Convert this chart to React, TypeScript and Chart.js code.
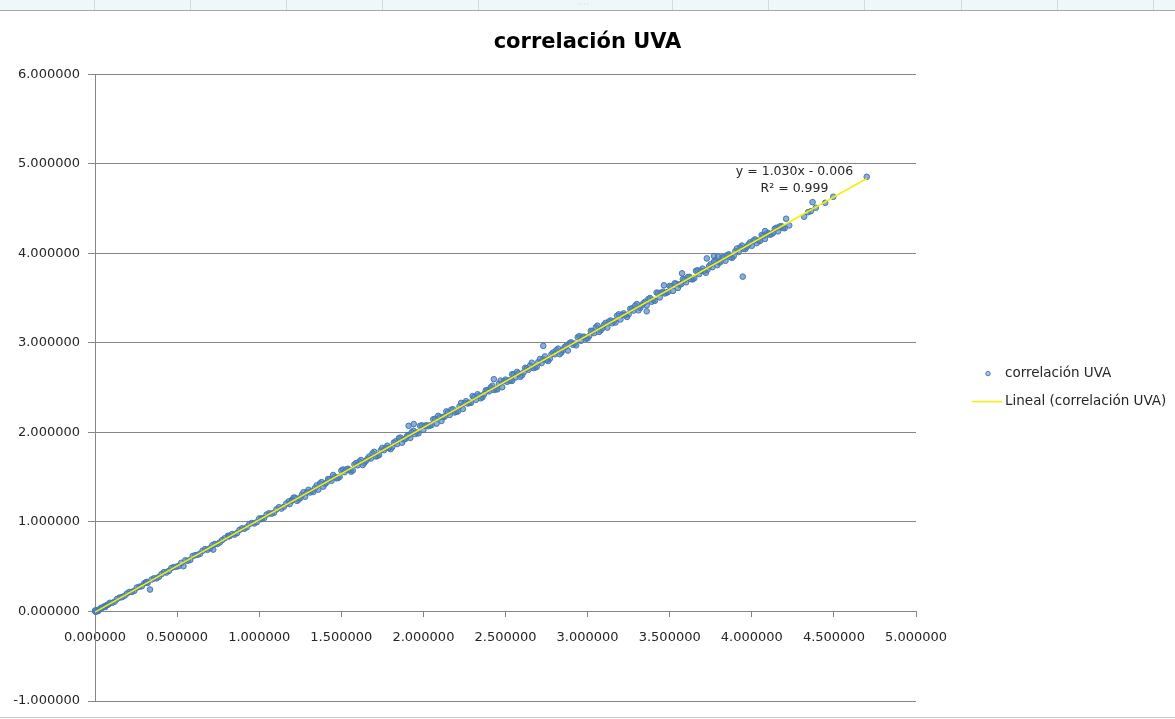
import React, { useEffect, useRef } from 'react';
import { Chart, registerables, layouts } from 'chart.js';

Chart.register(...registerables);

// ---------- texts ----------
const TITLE = 'correlación UVA';
const SERIES_LABEL = 'correlación UVA';
const TREND_LABEL = 'Lineal (correlación UVA)';

// ---------- axes ----------
const X_TICKS = [0, 0.5, 1, 1.5, 2, 2.5, 3, 3.5, 4, 4.5, 5];
const Y_TICKS = [-1, 0, 1, 2, 3, 4, 5, 6];

// ---------- trendline ----------
const TREND_SLOPE = 1.03;
const TREND_INTERCEPT = -0.006;
const TREND_R2 = 0.999;
const TREND_X_RANGE = [0, 4.7];
const TREND_LABEL_AT = { x: 4.26, y: 4.905 };

// ---------- data (x, y) ----------
const puntosOrigen: [number, number][] = [
  [0.0, 0.004], [0.004, -0.003], [0.008, 0.01], [0.012, 0.002], [0.016, 0.014], [0.002, 0.012],
  [0.02, 0.006], [0.045, 0.042], [0.055, 0.056], [0.062, 0.05], [0.068, 0.066], [0.074, 0.072],
  [0.03, 0.024], [0.037, 0.04], [0.082, 0.078],
];

const puntosTramoBajo: [number, number][] = [
  [0.09, 0.097], [0.12, 0.11], [0.15, 0.155], [0.18, 0.175], [0.21, 0.218], [0.24, 0.231],
  [0.27, 0.276], [0.3, 0.315], [0.31, 0.323], [0.32, 0.318], [0.315, 0.33], [0.335, 0.245],
  [0.36, 0.37], [0.39, 0.387], [0.42, 0.439], [0.45, 0.453], [0.48, 0.496], [0.51, 0.507],
  [0.539, 0.506], [0.55, 0.571], [0.58, 0.575], [0.61, 0.628], [0.64, 0.645], [0.67, 0.696],
  [0.7, 0.705], [0.72, 0.691], [0.73, 0.754], [0.76, 0.771], [0.79, 0.818], [0.81, 0.846],
  [0.815, 0.838], [0.82, 0.843], [0.85, 0.858], [0.88, 0.91], [0.91, 0.923], [0.94, 0.976],
  [0.97, 0.983], [1.0, 1.038], [1.016, 1.041], [1.012, 1.03], [1.03, 1.043], [1.06, 1.096],
  [1.09, 1.103], [1.12, 1.164], [1.15, 1.169], [1.18, 1.229], [1.2, 1.238], [1.199, 1.245],
  [0.105, 0.096], [0.135, 0.141], [0.165, 0.16], [0.195, 0.201], [0.225, 0.218], [0.255, 0.267],
  [0.285, 0.282], [0.345, 0.357], [0.375, 0.37], [0.405, 0.417], [0.435, 0.434], [0.465, 0.485],
  [0.495, 0.5], [0.525, 0.543], [0.565, 0.566], [0.595, 0.619], [0.625, 0.632], [0.655, 0.677],
  [0.685, 0.688], [0.715, 0.74], [0.745, 0.753], [0.775, 0.798], [0.835, 0.864], [0.865, 0.875],
  [0.895, 0.928], [0.925, 0.941], [0.955, 0.988], [0.985, 0.997], [1.045, 1.082], [1.075, 1.091],
  [1.105, 1.14], [1.135, 1.149], [1.165, 1.206], [1.185, 1.199],
];

const puntosBanda: [number, number][] = [
  [1.22, 1.269], [1.24, 1.249], [1.26, 1.302], [1.28, 1.282], [1.3, 1.359], [1.32, 1.346], [1.34, 1.378], [1.36, 1.36], [1.38, 1.445], [1.4, 1.424],
  [1.42, 1.479], [1.44, 1.459], [1.46, 1.504], [1.48, 1.49], [1.5, 1.573], [1.52, 1.556], [1.54, 1.594], [1.56, 1.561], [1.58, 1.641], [1.6, 1.632],
  [1.62, 1.691], [1.64, 1.659], [1.66, 1.706], [1.68, 1.708], [1.7, 1.783], [1.72, 1.736], [1.74, 1.798], [1.76, 1.801], [1.78, 1.851], [1.8, 1.812],
  [1.82, 1.885], [1.84, 1.869], [1.86, 1.942], [1.88, 1.92], [1.9, 1.959], [1.92, 1.938], [1.94, 2.018], [1.96, 1.999], [1.98, 2.073], [2.0, 2.028],
  [2.02, 2.079], [2.04, 2.077], [2.06, 2.146], [2.08, 2.098], [2.1, 2.169], [2.12, 2.172], [2.14, 2.234], [2.16, 2.195], [2.18, 2.257], [2.2, 2.23],
  [2.22, 2.291], [2.24, 2.261], [2.26, 2.348], [2.28, 2.33], [2.3, 2.405], [2.32, 2.364], [2.34, 2.41], [2.36, 2.393], [2.38, 2.469], [2.4, 2.458],
  [2.42, 2.521], [2.44, 2.481], [2.46, 2.542], [2.48, 2.504], [2.5, 2.589], [2.52, 2.58], [2.54, 2.648], [2.56, 2.613], [2.58, 2.659], [2.6, 2.636],
  [2.62, 2.721], [2.64, 2.699], [2.66, 2.778], [2.68, 2.724], [2.7, 2.785], [2.72, 2.774], [2.74, 2.848], [2.76, 2.797], [2.78, 2.873], [2.8, 2.872],
  [2.82, 2.935], [2.84, 2.891], [2.86, 2.952], [2.88, 2.914], [2.9, 3.005], [2.92, 2.992], [2.94, 3.062], [2.96, 3.023], [2.98, 3.067], [3.0, 3.05],
  [3.02, 3.135], [3.04, 3.109], [3.06, 3.192], [3.08, 3.14], [3.1, 3.201], [3.12, 3.17], [3.14, 3.25], [3.16, 3.241], [3.18, 3.303], [3.2, 3.26],
  [3.22, 3.329], [3.24, 3.289], [3.26, 3.38], [3.28, 3.36], [3.3, 3.433], [3.32, 3.39], [3.34, 3.442], [3.36, 3.419], [3.38, 3.501], [3.4, 3.478],
  [3.42, 3.561], [3.44, 3.507], [3.46, 3.57], [3.48, 3.558], [3.5, 3.635], [3.52, 3.58], [3.54, 3.66], [3.56, 3.651], [3.58, 3.711], [3.6, 3.676],
  [3.62, 3.737], [3.64, 3.709], [3.66, 3.804], [3.68, 3.768], [3.7, 3.829], [3.72, 3.782], [3.74, 3.856], [3.76, 3.845], [3.78, 3.925], [3.8, 3.896],
  [3.82, 3.955], [3.84, 3.917], [3.86, 3.988], [3.88, 3.95], [3.9, 4.023], [3.92, 4.014], [3.94, 4.086], [3.96, 4.047], [3.98, 4.099], [4.0, 4.084],
  [4.02, 4.155], [4.04, 4.141], [4.06, 4.204], [4.08, 4.16], [4.1, 4.227], [4.12, 4.214], [4.14, 4.274], [4.16, 4.245], [4.18, 4.303], [4.2, 4.28],
];

const puntosBandaIntermedios: [number, number][] = [
  [1.23, 1.235], [1.27, 1.332], [1.31, 1.329], [1.35, 1.407], [1.39, 1.394], [1.43, 1.479], [1.47, 1.488], [1.51, 1.585],
  [1.55, 1.581], [1.59, 1.656], [1.63, 1.635], [1.67, 1.73], [1.71, 1.731], [1.75, 1.827], [1.79, 1.826], [1.83, 1.899],
  [1.87, 1.884], [1.91, 1.971], [1.95, 1.981], [1.99, 2.078], [2.03, 2.069], [2.07, 2.152], [2.11, 2.127], [2.15, 2.223],
  [2.19, 2.222], [2.23, 2.329], [2.27, 2.322], [2.31, 2.395], [2.35, 2.381], [2.39, 2.472], [2.43, 2.473], [2.47, 2.578],
  [2.51, 2.565], [2.55, 2.649], [2.59, 2.62], [2.63, 2.715], [2.67, 2.718], [2.71, 2.819], [2.75, 2.809], [2.79, 2.892],
  [2.83, 2.873], [2.87, 2.968], [2.91, 2.979], [2.95, 3.075], [2.99, 3.046], [3.03, 3.131], [3.07, 3.122], [3.11, 3.223],
  [3.15, 3.219], [3.19, 3.318], [3.23, 3.311], [3.27, 3.384], [3.31, 3.363], [3.35, 3.459], [3.39, 3.46], [3.43, 3.557],
  [3.47, 3.552], [3.51, 3.633], [3.55, 3.613], [3.59, 3.704], [3.63, 3.711], [3.67, 3.81], [3.71, 3.803], [3.75, 3.877],
  [3.79, 3.868], [3.83, 3.953], [3.87, 3.956], [3.91, 4.053], [3.95, 4.049], [3.99, 4.122], [4.03, 4.113], [4.07, 4.196],
  [4.11, 4.207], [4.15, 4.285], [4.19, 4.282],
];

const puntosBandaRelleno: [number, number][] = [
  [1.21, 1.272], [1.25, 1.266], [1.29, 1.329], [1.33, 1.334], [1.37, 1.429], [1.41, 1.438], [1.45, 1.524], [1.49, 1.503],
  [1.53, 1.584], [1.57, 1.575], [1.61, 1.674], [1.65, 1.682], [1.69, 1.765], [1.73, 1.748], [1.77, 1.825], [1.81, 1.836],
  [1.85, 1.934], [1.89, 1.927], [1.93, 2.002], [1.97, 1.989], [2.01, 2.074], [2.05, 2.082], [2.09, 2.185], [2.13, 2.176],
  [2.17, 2.253], [2.21, 2.234], [2.25, 2.328], [2.29, 2.331], [2.33, 2.426], [2.37, 2.427], [2.41, 2.502], [2.45, 2.48],
  [2.49, 2.571], [2.53, 2.58], [2.57, 2.675], [2.61, 2.668], [2.65, 2.746], [2.69, 2.731], [2.73, 2.814], [2.77, 2.823],
  [2.81, 2.918], [2.85, 2.92], [2.89, 2.997], [2.93, 2.972], [2.97, 3.067], [3.01, 3.076], [3.05, 3.172], [3.09, 3.165],
  [3.13, 3.238], [3.17, 3.227], [3.21, 3.31], [3.25, 3.318], [3.29, 3.415], [3.33, 3.416], [3.37, 3.489], [3.41, 3.47],
  [3.45, 3.562], [3.49, 3.569], [3.53, 3.664], [3.57, 3.655], [3.61, 3.734], [3.65, 3.722], [3.69, 3.805], [3.73, 3.816],
  [3.77, 3.907], [3.81, 3.904], [3.85, 3.978], [3.89, 3.971], [3.93, 4.066], [3.97, 4.073], [4.01, 4.14], [4.05, 4.138],
  [4.09, 4.219], [4.13, 4.228], [4.17, 4.299],
];

const puntosDispersos: [number, number][] = [
  [4.209, 4.386], [4.228, 4.311], [4.319, 4.408], [4.343, 4.459], [4.36, 4.47], [4.37, 4.571],
  [4.39, 4.508], [4.447, 4.564], [4.496, 4.631], [4.7, 4.854], [3.945, 3.739], [3.726, 3.943],
  [3.77, 3.969], [3.795, 3.962], [3.575, 3.776], [3.465, 3.642], [3.36, 3.352], [2.73, 2.966],
  [2.429, 2.594], [1.91, 2.073], [1.941, 2.093], [2.54, 2.575], [4.081, 4.248],
];

// ---------- styles ----------
const MARKER_BORDER = '#4678b6';
const MARKER_FILL = 'rgba(79,129,189,0.65)';
const TREND_COLOR = '#f2f200';
const GRID_COLOR = '#868686';
const TEXT_COLOR = '#262626';
const LEGEND_WIDTH = 259;
const STRIP_SEPARATORS = [94, 190, 286, 382, 478, 672, 768, 864, 961, 1057, 1153];

function fmt(v: number) {
  return Number(v).toFixed(6);
}

export default function App() {
  const canvasRef = useRef<HTMLCanvasElement | null>(null);

  useEffect(() => {
    const canvas = canvasRef.current;
    if (!canvas) return;

    const all = [
      ...puntosOrigen,
      ...puntosTramoBajo,
      ...puntosBanda,
      ...puntosBandaIntermedios,
      ...puntosBandaRelleno,
      ...puntosDispersos,
    ].map(([x, y]) => ({ x, y }));
    const trend = TREND_X_RANGE.map((x) => ({ x, y: TREND_SLOPE * x + TREND_INTERCEPT }));

    const legendBoxPlugin = {
      id: 'excelLegendBox',
      beforeInit(chart: any) {
        const box: any = {
          position: 'right',
          weight: 0,
          fullSize: false,
          options: { display: true },
          left: 0, top: 0, right: 0, bottom: 0, width: 0, height: 0,
          isHorizontal() { return false; },
          update(_maxW: number, maxH: number) {
            this.width = LEGEND_WIDTH;
            this.height = maxH;
          },
          draw() {
            const ctx = chart.ctx as CanvasRenderingContext2D;
            const area = chart.chartArea;
            const midY = (area.top + area.bottom) / 2;
            const y1 = midY - 14;
            const y2 = midY + 14;
            const x0 = this.left;
            ctx.save();
            ctx.beginPath();
            ctx.arc(x0 + 72, y1, 2.2, 0, Math.PI * 2);
            ctx.fillStyle = 'rgba(79,129,189,0.45)';
            ctx.fill();
            ctx.strokeStyle = MARKER_BORDER;
            ctx.lineWidth = 1;
            ctx.stroke();
            ctx.beginPath();
            ctx.moveTo(x0 + 56, y2);
            ctx.lineTo(x0 + 86, y2);
            ctx.strokeStyle = TREND_COLOR;
            ctx.lineWidth = 1.5;
            ctx.stroke();
            ctx.font = '13.5px "DejaVu Sans"';
            ctx.fillStyle = TEXT_COLOR;
            ctx.textAlign = 'left';
            ctx.textBaseline = 'middle';
            ctx.fillText(SERIES_LABEL, x0 + 89, y1);
            ctx.fillText(TREND_LABEL, x0 + 89, y2);
            ctx.restore();
          },
        };
        layouts.addBox(chart, box);
      },
    };

    const trendLabelPlugin = {
      id: 'trendLabel',
      afterDatasetsDraw(chart: any) {
        const ctx = chart.ctx as CanvasRenderingContext2D;
        const cx = chart.scales.x.getPixelForValue(TREND_LABEL_AT.x);
        const cy = chart.scales.y.getPixelForValue(TREND_LABEL_AT.y);
        ctx.save();
        ctx.font = '12.5px "DejaVu Sans"';
        ctx.fillStyle = TEXT_COLOR;
        ctx.textAlign = 'center';
        ctx.textBaseline = 'middle';
        const sign = TREND_INTERCEPT < 0 ? '-' : '+';
        ctx.fillText(`y = ${TREND_SLOPE.toFixed(3)}x ${sign} ${Math.abs(TREND_INTERCEPT).toFixed(3)}`, cx, cy);
        ctx.fillText(`R² = ${TREND_R2.toFixed(3)}`, cx, cy + 17);
        ctx.restore();
      },
    };

    const chart = new Chart(canvas, {
      type: 'scatter',
      data: {
        datasets: [
          {
            label: TREND_LABEL,
            data: trend,
            showLine: true,
            borderColor: TREND_COLOR,
            borderWidth: 1.5,
            pointRadius: 0,
            fill: false,
            order: 0,
          } as any,
          {
            label: SERIES_LABEL,
            data: all,
            pointRadius: 2.8,
            pointBorderWidth: 1,
            pointBorderColor: MARKER_BORDER,
            pointBackgroundColor: MARKER_FILL,
            showLine: false,
            clip: false,
            order: 1,
          } as any,
        ],
      },
      options: {
        animation: false,
        responsive: false,
        events: [],
        layout: { padding: { left: 0, top: 14, right: 0, bottom: 18 } },
        plugins: {
          legend: { display: false },
          tooltip: { enabled: false },
          title: {
            display: true,
            text: TITLE,
            color: '#000',
            font: { family: '"DejaVu Sans"', size: 21, weight: 'bold' },
            padding: { top: 16, bottom: 19 },
          },
        },
        scales: {
          x: {
            type: 'linear',
            min: 0,
            max: 5,
            position: { y: 0 } as any,
            afterBuildTicks: (scale: any) => {
              scale.ticks = X_TICKS.map((value) => ({ value }));
            },
            grid: {
              display: true,
              drawOnChartArea: false,
              drawTicks: true,
              tickLength: 5,
              color: GRID_COLOR,
            },
            border: { display: true, color: GRID_COLOR, width: 1 },
            ticks: {
              callback: (v: any) => fmt(v),
              color: TEXT_COLOR,
              font: { family: '"DejaVu Sans"', size: 13 },
              padding: 13,
              maxRotation: 0,
              autoSkip: false,
            },
          },
          y: {
            type: 'linear',
            min: -1,
            max: 6,
            afterBuildTicks: (scale: any) => {
              scale.ticks = Y_TICKS.map((value) => ({ value }));
            },
            afterFit: (scale: any) => {
              scale.width = 95;
            },
            grid: {
              color: GRID_COLOR,
              tickLength: 7,
              drawTicks: true,
            },
            border: { display: true, color: GRID_COLOR, width: 1 },
            ticks: {
              callback: (v: any) => fmt(v),
              color: TEXT_COLOR,
              font: { family: '"DejaVu Sans"', size: 13 },
              padding: 8,
              autoSkip: false,
            },
          },
        },
      },
      plugins: [legendBoxPlugin, trendLabelPlugin],
    });

    return () => chart.destroy();
  }, []);

  return (
    <div
      style={{
        position: 'fixed',
        left: 0,
        top: 0,
        width: 1175,
        height: 719,
        background: '#fff',
        overflow: 'hidden',
      }}
    >
      <canvas ref={canvasRef} width={1175} height={719} style={{ position: 'absolute', left: 0, top: 0 }} />
      <div
        style={{
          position: 'absolute',
          left: 0,
          top: 0,
          width: 1175,
          height: 10,
          background: '#eef8fb',
          borderBottom: '1px solid #a8a8a8',
        }}
      >
        {STRIP_SEPARATORS.map((sx) => (
          <div
            key={sx}
            style={{ position: 'absolute', left: sx, top: 0, width: 1, height: 10, background: '#cfdce4' }}
          />
        ))}
        <div
          style={{
            position: 'absolute',
            left: 578,
            top: 2,
            width: 20,
            height: 4,
            fontSize: 6,
            lineHeight: '4px',
            color: '#9aa7b0',
            fontFamily: 'DejaVu Sans',
            letterSpacing: 1,
          }}
        >
          ····
        </div>
      </div>
      <div style={{ position: 'absolute', left: 0, top: 717, width: 1175, height: 1, background: '#c8c8c8' }} />
    </div>
  );
}
